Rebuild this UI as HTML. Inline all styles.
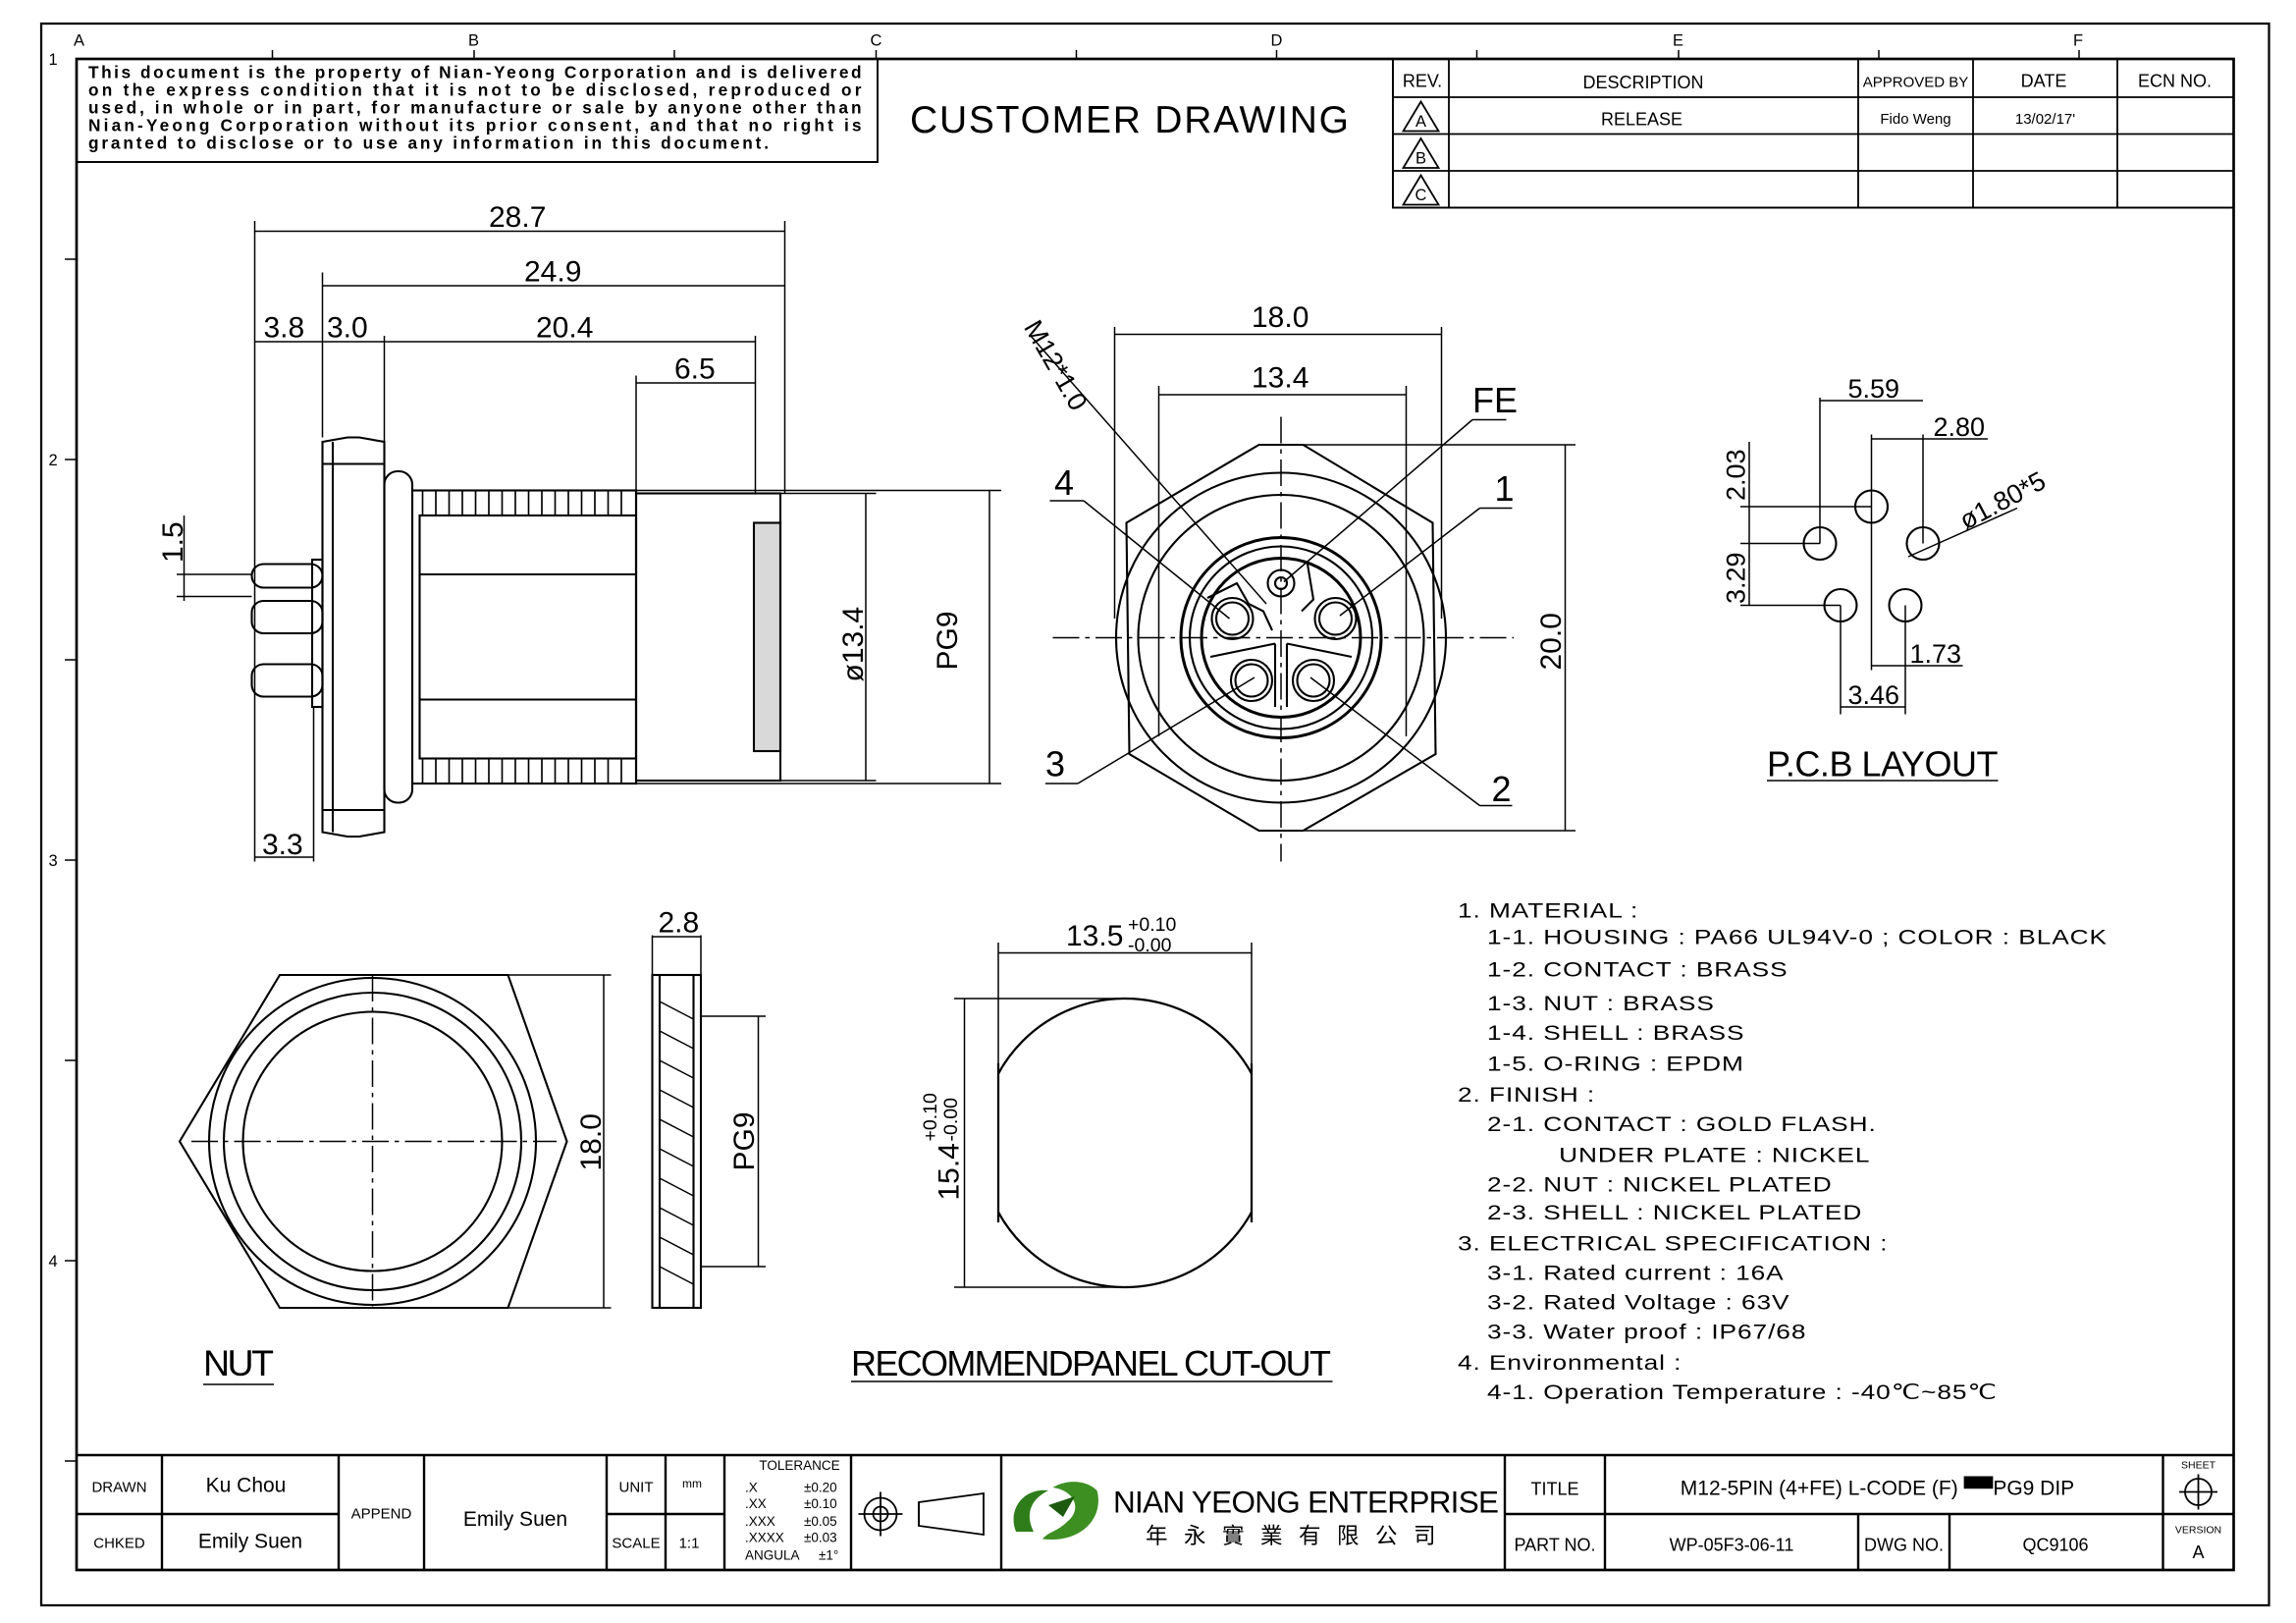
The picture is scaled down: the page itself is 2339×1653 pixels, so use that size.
<!DOCTYPE html>
<html><head><meta charset="utf-8"><style>
html,body{margin:0;padding:0;background:#fff}
svg{display:block}
text{font-family:"Liberation Sans",sans-serif;fill:#000}
</style></head><body>
<svg width="2339" height="1653" viewBox="0 0 1559.33 1102" xmlns="http://www.w3.org/2000/svg" fill="none" stroke="#000" stroke-width="1.3">
<rect x="28" y="16" width="1513" height="1074" stroke-width="1.5"/>
<rect x="52" y="40" width="1465" height="1026" stroke-width="1.8"/>
<g stroke-width="1">
<line x1="322" y1="34" x2="322" y2="40"/><line x1="595" y1="34" x2="595" y2="40"/><line x1="867" y1="34" x2="867" y2="40"/><line x1="1140" y1="34" x2="1140" y2="40"/><line x1="1412" y1="34" x2="1412" y2="40"/>
<line x1="185" y1="34" x2="185" y2="40"/><line x1="458" y1="34" x2="458" y2="40"/><line x1="731" y1="34" x2="731" y2="40"/><line x1="1003" y1="34" x2="1003" y2="40"/><line x1="1276" y1="34" x2="1276" y2="40"/>
<line x1="44" y1="176" x2="52" y2="176"/><line x1="44" y1="312" x2="52" y2="312"/><line x1="44" y1="448" x2="52" y2="448"/><line x1="44" y1="584" x2="52" y2="584"/><line x1="44" y1="720" x2="52" y2="720"/><line x1="44" y1="856" x2="52" y2="856"/><line x1="44" y1="992" x2="52" y2="992"/>
</g>
<g stroke="none" font-size="11">
<text x="50" y="31">A</text><text x="318" y="31">B</text><text x="591" y="31">C</text><text x="863" y="31">D</text><text x="1136" y="31">E</text><text x="1408" y="31">F</text>
<text x="33" y="44">1</text><text x="33" y="316">2</text><text x="33" y="588">3</text><text x="33" y="860">4</text>
</g>
<rect x="52" y="40" width="544" height="70"/>
<g stroke="none" font-size="11.5" font-weight="bold">
<text x="60" y="53" textLength="525">This document is the property of Nian-Yeong Corporation and is delivered</text>
<text x="60" y="65" textLength="525">on  the  express condition that it is not to be disclosed, reproduced or</text>
<text x="60" y="77" textLength="525">used, in whole or in part, for manufacture or sale by anyone other than</text>
<text x="60" y="89" textLength="525">Nian-Yeong Corporation without  its prior consent, and that  no right  is</text>
<text x="60" y="101" textLength="462">granted to disclose or to use any information in this  document.</text>
</g>
<text x="618" y="90" font-size="26" stroke="none" textLength="298">CUSTOMER  DRAWING</text>
<rect x="946" y="40" width="571" height="101"/>
<g stroke-width="1.2">
<line x1="946" y1="66" x2="1517" y2="66"/><line x1="946" y1="91" x2="1517" y2="91"/><line x1="946" y1="116" x2="1517" y2="116"/>
<line x1="984" y1="40" x2="984" y2="141"/><line x1="1262" y1="40" x2="1262" y2="141"/><line x1="1340" y1="40" x2="1340" y2="141"/><line x1="1438" y1="40" x2="1438" y2="141"/>
<polygon points="965,69 953,89 977,89"/><polygon points="965,94 953,114 977,114"/><polygon points="965,119 953,139 977,139"/>
</g>
<g stroke="none" font-size="12" text-anchor="middle">
<text x="966" y="59">REV.</text><text x="1116" y="60">DESCRIPTION</text><text x="1301" y="59" font-size="10">APPROVED BY</text><text x="1388" y="59">DATE</text><text x="1477" y="59">ECN NO.</text>
<text x="965" y="86" font-size="11">A</text><text x="965" y="111" font-size="11">B</text><text x="965" y="136" font-size="11">C</text>
<text x="1115" y="85">RELEASE</text><text x="1301" y="84" font-size="10">Fido Weng</text><text x="1389" y="84" font-size="10">13/02/17'</text>
</g>

<!-- SIDE VIEW -->
<g stroke-width="1.4">
<polygon points="219,300 236,297 244,297 261,300 261,565 244,568 236,568 219,565"/>
<line x1="219" y1="315" x2="261" y2="315"/><line x1="219" y1="550" x2="261" y2="550"/>
<line x1="226" y1="300" x2="226" y2="565"/>
<rect x="261" y="320" width="19" height="225" rx="9"/>
<rect x="280" y="333" width="152" height="199"/>
<rect x="285" y="350" width="147" height="165"/>
<line x1="285" y1="390" x2="432" y2="390"/><line x1="285" y1="475" x2="432" y2="475"/>
<rect x="432" y="335" width="98" height="195"/>
<rect x="512" y="355" width="18" height="155" fill="#000" fill-opacity="0.15"/>
<rect x="171" y="383" width="48" height="16" rx="8"/>
<rect x="171" y="408" width="48" height="22" rx="8"/>
<rect x="171" y="451" width="48" height="22" rx="8"/>
<rect x="212" y="380" width="7" height="100"/>
</g>
<g stroke-width="1.1">
<path d="M287 333 v17 M296 333 v17 M305 333 v17 M314 333 v17 M323 333 v17 M332 333 v17 M341 333 v17 M350 333 v17 M359 333 v17 M368 333 v17 M377 333 v17 M386 333 v17 M395 333 v17 M404 333 v17 M413 333 v17 M422 333 v17"/>
<path d="M287 515 v17 M296 515 v17 M305 515 v17 M314 515 v17 M323 515 v17 M332 515 v17 M341 515 v17 M350 515 v17 M359 515 v17 M368 515 v17 M377 515 v17 M386 515 v17 M395 515 v17 M404 515 v17 M413 515 v17 M422 515 v17"/>
</g>
<g stroke-width="1">
<line x1="173" y1="150" x2="173" y2="585"/><line x1="219" y1="185" x2="219" y2="297"/><line x1="261" y1="228" x2="261" y2="318"/>
<line x1="533" y1="150" x2="533" y2="335"/><line x1="513" y1="228" x2="513" y2="335"/><line x1="432" y1="255" x2="432" y2="335"/>
<line x1="173" y1="157" x2="533" y2="157"/><line x1="219" y1="194" x2="533" y2="194"/><line x1="173" y1="232" x2="513" y2="232"/>
<line x1="432" y1="260" x2="513" y2="260"/>
<line x1="213" y1="480" x2="213" y2="585"/><line x1="173" y1="582" x2="213" y2="582"/>
<line x1="120" y1="390" x2="171" y2="390"/><line x1="120" y1="405" x2="171" y2="405"/><line x1="125" y1="350" x2="125" y2="408"/>
<line x1="530" y1="335" x2="595" y2="335"/><line x1="530" y1="530" x2="595" y2="530"/><line x1="588" y1="335" x2="588" y2="530"/>
<line x1="432" y1="333" x2="680" y2="333"/><line x1="432" y1="532" x2="680" y2="532"/><line x1="672" y1="333" x2="672" y2="532"/>
</g>
<g stroke="none" font-size="20">
<text x="332" y="154">28.7</text><text x="356" y="191">24.9</text><text x="179" y="229">3.8</text><text x="222" y="229">3.0</text><text x="364" y="229">20.4</text><text x="458" y="257">6.5</text><text x="178" y="580">3.3</text>
<text transform="translate(124,382) rotate(-90)">1.5</text>
<text transform="translate(586,463) rotate(-90)">ø13.4</text>
<text transform="translate(650,455) rotate(-90)">PG9</text>
</g>

<!-- FRONT VIEW -->
<g stroke-width="1.4">
<polygon points="855,302 885,302 973,355 975,512 885,564 855,564 767,512 765,355"/>
<circle cx="870" cy="433" r="112"/>
<circle cx="870" cy="433" r="97"/>
<circle cx="870" cy="433" r="68" stroke-width="2"/>
<circle cx="870" cy="433" r="62"/>
<circle cx="870" cy="433" r="54" stroke-width="2"/>
<circle cx="870" cy="396" r="9"/><circle cx="870" cy="396" r="4"/>
<circle cx="837" cy="420" r="14"/><circle cx="837" cy="420" r="11"/>
<circle cx="907" cy="420" r="14"/><circle cx="907" cy="420" r="11"/>
<circle cx="850" cy="462" r="14"/><circle cx="850" cy="462" r="11"/>
<circle cx="892" cy="462" r="14"/><circle cx="892" cy="462" r="11"/>
<path d="M820 406 L840 396 L848 410 L858 415 L864 428 M884 415 L892 407 L888 383"/>
<path d="M822 446 L866 437 M918 446 L874 437 M866 437 V480 M874 437 V480"/>
</g>
<g stroke-width="1" stroke-dasharray="18,4,3,4">
<line x1="715" y1="433" x2="1028" y2="433"/><line x1="870" y1="283" x2="870" y2="585"/>
</g>
<g stroke-width="1">
<line x1="757" y1="222" x2="757" y2="420"/><line x1="979" y1="222" x2="979" y2="420"/><line x1="757" y1="227" x2="979" y2="227"/>
<line x1="787" y1="262" x2="787" y2="500"/><line x1="955" y1="262" x2="955" y2="500"/><line x1="787" y1="268" x2="955" y2="268"/>
<line x1="885" y1="302" x2="1070" y2="302"/><line x1="885" y1="564" x2="1070" y2="564"/><line x1="1063" y1="302" x2="1063" y2="564"/>
<line x1="700" y1="228" x2="860" y2="410"/>
<line x1="1000" y1="285" x2="1023" y2="285"/><line x1="1000" y1="285" x2="872" y2="395"/>
<line x1="1005" y1="345" x2="1027" y2="345"/><line x1="1005" y1="345" x2="910" y2="418"/>
<line x1="713" y1="340" x2="736" y2="340"/><line x1="736" y1="340" x2="835" y2="420"/>
<line x1="710" y1="532" x2="732" y2="532"/><line x1="732" y1="532" x2="852" y2="460"/>
<line x1="1005" y1="547" x2="1027" y2="547"/><line x1="1005" y1="547" x2="890" y2="460"/>
</g>
<g stroke="none" font-size="20">
<text x="850" y="222">18.0</text><text x="850" y="263">13.4</text>
<text x="1000" y="280" font-size="24">FE</text><text x="1015" y="340" font-size="24">1</text><text x="716" y="336" font-size="24">4</text><text x="710" y="527" font-size="24">3</text><text x="1013" y="544" font-size="24">2</text>
<text transform="translate(1060,455) rotate(-90)">20.0</text>
<text transform="translate(695,222) rotate(60)" font-size="18">M12*1.0</text>
</g>

<!-- PCB LAYOUT -->
<g stroke-width="1.4">
<circle cx="1271" cy="344" r="11"/><circle cx="1236" cy="369" r="11"/><circle cx="1306" cy="369" r="11"/><circle cx="1250" cy="411" r="11"/><circle cx="1294" cy="411" r="11"/>
</g>
<g stroke-width="1">
<line x1="1236" y1="270" x2="1236" y2="369"/><line x1="1306" y1="295" x2="1306" y2="369"/><line x1="1271" y1="295" x2="1271" y2="344"/>
<line x1="1236" y1="272" x2="1306" y2="272"/><line x1="1271" y1="298" x2="1350" y2="298"/>
<line x1="1182" y1="344" x2="1271" y2="344"/><line x1="1182" y1="369" x2="1236" y2="369"/><line x1="1182" y1="411" x2="1250" y2="411"/><line x1="1188" y1="300" x2="1188" y2="411"/>
<line x1="1250" y1="411" x2="1250" y2="485"/><line x1="1294" y1="411" x2="1294" y2="485"/><line x1="1250" y1="480" x2="1294" y2="480"/>
<line x1="1271" y1="344" x2="1271" y2="455"/><line x1="1271" y1="452" x2="1333" y2="452"/>
<line x1="1296" y1="378" x2="1370" y2="345"/>
<line x1="1200" y1="530" x2="1357" y2="530"/>
</g>
<g stroke="none" font-size="18">
<text x="1255" y="270">5.59</text><text x="1313" y="296">2.80</text><text x="1297" y="450">1.73</text><text x="1255" y="478">3.46</text>
<text transform="translate(1185,340) rotate(-90)">2.03</text><text transform="translate(1185,410) rotate(-90)">3.29</text>
<text transform="translate(1335,360) rotate(-28)">ø1.80*5</text>
<text x="1200" y="527" font-size="24" textLength="157">P.C.B  LAYOUT</text>
</g>

<!-- NUT -->
<g stroke-width="1.4">
<polygon points="122,775 190,662 345,662 385,775 345,888 190,888"/>
<circle cx="253" cy="775" r="111"/><circle cx="253" cy="775" r="101"/><circle cx="253" cy="775" r="88"/>
</g>
<g stroke-width="1" stroke-dasharray="18,4,3,4"><line x1="130" y1="775" x2="378" y2="775"/><line x1="253" y1="662" x2="253" y2="888"/></g>
<g stroke-width="1"><line x1="345" y1="662" x2="415" y2="662"/><line x1="345" y1="888" x2="415" y2="888"/><line x1="410" y1="662" x2="410" y2="888"/>
<line x1="138" y1="940" x2="186" y2="940"/></g>
<g stroke="none"><text transform="translate(408,795) rotate(-90)" font-size="20">18.0</text><text x="138" y="934" font-size="25" textLength="48">NUT</text></g>
<g stroke-width="1.4">
<rect x="443" y="662" width="33" height="226"/>
<path d="M448 680 l23 12 M448 700 l23 12 M448 720 l23 12 M448 740 l23 12 M448 760 l23 12 M448 780 l23 12 M448 800 l23 12 M448 820 l23 12 M448 840 l23 12 M448 860 l23 12" stroke-width="1"/>
<line x1="448" y1="662" x2="448" y2="888"/><line x1="471" y1="662" x2="471" y2="888"/>
</g>
<g stroke-width="1"><line x1="443" y1="635" x2="443" y2="662"/><line x1="476" y1="635" x2="476" y2="662"/><line x1="443" y1="636" x2="476" y2="636"/>
<line x1="476" y1="690" x2="520" y2="690"/><line x1="476" y1="860" x2="520" y2="860"/><line x1="515" y1="690" x2="515" y2="860"/></g>
<g stroke="none" font-size="20"><text x="447" y="633">2.8</text><text transform="translate(512,795) rotate(-90)">PG9</text></g>

<!-- CUTOUT -->
<clipPath id="cc"><rect x="678" y="600" width="172" height="400"/></clipPath>
<circle cx="764" cy="776" r="98" clip-path="url(#cc)" stroke-width="1.5"/>
<g stroke-width="1.5"><line x1="678" y1="722" x2="678" y2="830"/><line x1="850" y1="722" x2="850" y2="830"/></g>
<g stroke-width="1">
<line x1="678" y1="640" x2="678" y2="722"/><line x1="850" y1="640" x2="850" y2="722"/><line x1="678" y1="647" x2="850" y2="647"/>
<line x1="648" y1="678" x2="764" y2="678"/><line x1="648" y1="874" x2="764" y2="874"/><line x1="655" y1="678" x2="655" y2="874"/>
<line x1="578" y1="938" x2="905" y2="938"/>
</g>
<g stroke="none">
<text x="724" y="642" font-size="20">13.5</text><text x="766" y="632" font-size="13">+0.10</text><text x="766" y="646" font-size="13">-0.00</text>
<text transform="translate(651,815) rotate(-90)" font-size="20">15.4</text><text transform="translate(636,775) rotate(-90)" font-size="13">+0.10</text><text transform="translate(650,775) rotate(-90)" font-size="13">-0.00</text>
<text x="578" y="934" font-size="24" textLength="326">RECOMMENDPANEL  CUT-OUT</text>
</g>

<!-- spec text -->
<g stroke="none" font-size="14" transform="translate(990,0) scale(1.25,1) translate(-990,0)" letter-spacing="0.5">
<text x="990" y="623">1.  MATERIAL  :</text>
<text x="1006" y="641">1-1.  HOUSING  :  PA66  UL94V-0  ;  COLOR  :  BLACK</text>
<text x="1006" y="663">1-2.  CONTACT  :  BRASS</text>
<text x="1006" y="686">1-3.  NUT  :  BRASS</text>
<text x="1006" y="706">1-4.  SHELL  :  BRASS</text>
<text x="1006" y="727">1-5.  O-RING  :  EPDM</text>
<text x="990" y="748">2.  FINISH  :</text>
<text x="1006" y="768">2-1.  CONTACT  :  GOLD  FLASH.</text>
<text x="1045" y="789">UNDER  PLATE  :  NICKEL</text>
<text x="1006" y="809">2-2.  NUT  :  NICKEL  PLATED</text>
<text x="1006" y="828">2-3.  SHELL  :  NICKEL  PLATED</text>
<text x="990" y="849">3.  ELECTRICAL  SPECIFICATION  :</text>
<text x="1006" y="869">3-1.  Rated  current  :  16A</text>
<text x="1006" y="889">3-2.  Rated  Voltage  :  63V</text>
<text x="1006" y="909">3-3.  Water  proof  :  IP67/68</text>
<text x="990" y="930">4.  Environmental  :</text>
<text x="1006" y="950">4-1.  Operation  Temperature  :  -40℃~85℃</text>
</g>

<!-- TITLE BLOCK -->
<g stroke-width="1.6">
<line x1="52" y1="988" x2="1517" y2="988"/>
<line x1="52" y1="1028" x2="230" y2="1028"/><line x1="412" y1="1028" x2="492" y2="1028"/><line x1="1022" y1="1028" x2="1517" y2="1028"/>
<line x1="110" y1="988" x2="110" y2="1066"/><line x1="230" y1="988" x2="230" y2="1066"/><line x1="288" y1="988" x2="288" y2="1066"/><line x1="412" y1="988" x2="412" y2="1066"/><line x1="452" y1="988" x2="452" y2="1066"/><line x1="492" y1="988" x2="492" y2="1066"/><line x1="578" y1="988" x2="578" y2="1066"/><line x1="680" y1="988" x2="680" y2="1066"/><line x1="1022" y1="988" x2="1022" y2="1066"/><line x1="1090" y1="988" x2="1090" y2="1066"/><line x1="1262" y1="1028" x2="1262" y2="1066"/><line x1="1324" y1="1028" x2="1324" y2="1066"/><line x1="1469" y1="988" x2="1469" y2="1066"/>
</g>
<g stroke-width="1.2">
<circle cx="598" cy="1028" r="11"/><circle cx="598" cy="1028" r="5"/><line x1="583" y1="1028" x2="613" y2="1028"/><line x1="598" y1="1013" x2="598" y2="1043"/>
<polygon points="624,1020 668,1014 668,1042 624,1036"/><line x1="624" y1="1020" x2="624" y2="1036"/>
<circle cx="1493" cy="1013" r="9"/><line x1="1480" y1="1013" x2="1506" y2="1013"/><line x1="1493" y1="1001" x2="1493" y2="1025"/>
</g>
<g stroke="none">
<path d="M690 1040 C684 1025 695 1010 712 1012 C700 1018 696 1028 702 1040 Z" fill="#2e7d1a"/>
<path d="M708 1045 C735 1048 750 1030 745 1012 C738 1005 725 1004 715 1010 C730 1012 735 1025 725 1033 C718 1040 712 1040 708 1045 Z" fill="#3d8f22"/>
<path d="M712 1022 L730 1016 L722 1030 Z" fill="#1d5a10"/>
</g>
<g stroke="none" font-size="13" text-anchor="middle">
<text x="81" y="1013" font-size="10">DRAWN</text><text x="81" y="1051" font-size="10">CHKED</text>
<text x="167" y="1013" font-size="14">Ku Chou</text><text x="170" y="1051" font-size="14">Emily Suen</text>
<text x="259" y="1031" font-size="10">APPEND</text><text x="350" y="1036" font-size="14">Emily Suen</text>
<text x="432" y="1013" font-size="10">UNIT</text><text x="470" y="1010" font-size="8">mm</text>
<text x="432" y="1051" font-size="10">SCALE</text><text x="468" y="1051" font-size="10">1:1</text>
<text x="543" y="998" font-size="9">TOLERANCE</text>
</g>
<g stroke="none" font-size="9">
<text x="506" y="1013">.X</text><text x="546" y="1013">±0.20</text>
<text x="506" y="1024">.XX</text><text x="546" y="1024">±0.10</text>
<text x="506" y="1036">.XXX</text><text x="546" y="1036">±0.05</text>
<text x="506" y="1047">.XXXX</text><text x="546" y="1047">±0.03</text>
<text x="506" y="1059">ANGULA</text><text x="556" y="1059">±1°</text>
</g>
<g stroke="none">
<text x="756" y="1027" font-size="21" textLength="262">NIAN YEONG ENTERPRISE</text>
<text x="778" y="1048" font-size="15" font-family="'Noto Sans CJK TC',sans-serif" letter-spacing="11">年永實業有限公司</text>
<text x="1056" y="1015" font-size="12" text-anchor="middle">TITLE</text>
<text x="1275" y="1015" font-size="14" text-anchor="middle">M12-5PIN (4+FE) L-CODE (F) ▀▀PG9 DIP</text>
<text x="1056" y="1053" font-size="12" text-anchor="middle">PART NO.</text>
<text x="1176" y="1053" font-size="12" text-anchor="middle">WP-05F3-06-11</text>
<text x="1293" y="1053" font-size="12" text-anchor="middle">DWG NO.</text>
<text x="1396" y="1053" font-size="12" text-anchor="middle">QC9106</text>
<text x="1493" y="997" font-size="7" text-anchor="middle">SHEET</text>
<text x="1493" y="1041" font-size="7" text-anchor="middle">VERSION</text>
<text x="1493" y="1058" font-size="12" text-anchor="middle">A</text>
</g>
</svg>
</body></html>
